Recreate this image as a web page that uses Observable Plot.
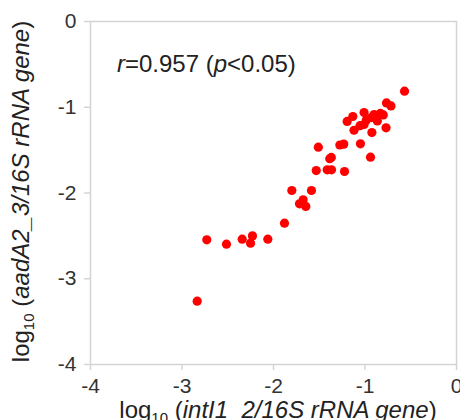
<!DOCTYPE html>
<html><head><meta charset="utf-8">
<script src="https://cdn.jsdelivr.net/npm/d3@7"></script>
<script src="https://cdn.jsdelivr.net/npm/@observablehq/plot@0.6"></script>
<style>body{margin:0;background:#fff} svg{display:block}</style>
</head><body><div id="chart"></div>
<script>
// log10(intI1_2/16S rRNA gene)
const intI1 = [-0.568,-0.765,-0.716,-1.010,-1.133,-1.195,-0.900,-0.832,-0.800,-0.865,-0.930,-0.985,-1.010,-1.055,-1.120,-0.925,-0.770,-1.050,-1.232,-1.275,-1.510,-1.368,-1.385,-0.940,-1.533,-1.413,-1.366,-1.224,-1.800,-1.585,-1.716,-1.676,-1.647,-1.880,-2.729,-2.514,-2.342,-2.230,-2.251,-2.062,-2.834];
// log10(aadA2_3/16S rRNA gene)
const aadA2 = [-0.812,-0.950,-0.985,-1.062,-1.108,-1.165,-1.085,-1.072,-1.090,-1.160,-1.120,-1.150,-1.200,-1.215,-1.268,-1.295,-1.240,-1.427,-1.430,-1.440,-1.466,-1.585,-1.600,-1.582,-1.738,-1.730,-1.730,-1.749,-1.971,-1.971,-2.126,-2.080,-2.157,-2.352,-2.546,-2.597,-2.538,-2.500,-2.585,-2.538,-3.261];
const tickValues = [-4,-3,-2,-1,0];
const tickLabels = ["-4","-3","-2","-1","0"];
const annotation = {r: "0.957", p: "0.05", x: -3.705, y: -0.6};

const data = intI1.map((x,i)=>({x, y: aadA2[i]}));
const fmt = d => tickLabels[tickValues.indexOf(d)];
const grey = "#d4d4d4";

const plot = Plot.plot({
  width:460, height:420,
  marginLeft:90, marginRight:4, marginTop:21, marginBottom:56,
  style:{fontFamily:"'Liberation Sans', Arial, sans-serif", fontSize:"21px", color:"#333", background:"#fff", overflow:"visible"},
  x:{domain:[-4,0]},
  y:{domain:[-4,0]},
  marks:[
    Plot.frame({stroke:grey, strokeWidth:1.5}),
    Plot.axisX({ticks:tickValues, tickFormat:fmt, tickSize:6, tickPadding:8, stroke:grey, strokeWidth:1.5, fill:"#333", label:null}),
    Plot.axisY({ticks:tickValues, tickFormat:fmt, tickSize:6, tickPadding:8, stroke:grey, strokeWidth:1.5, fill:"#333", label:null}),
    Plot.dot(data, {x:"x", y:"y", r:4.6, fill:"#ff0000", stroke:"none"})
  ]
});
document.getElementById("chart").appendChild(plot);

const svg = d3.select(plot);
const xs = plot.scale("x"), ys = plot.scale("y");
const ff = "'Liberation Sans', Arial, sans-serif";

// x title
const xt = svg.append("text").attr("x", (xs.apply(-4)+xs.apply(0))/2 + 5).attr("y", 418)
  .attr("text-anchor","middle").attr("font-family",ff).attr("font-size",24).attr("fill","#222");
xt.append("tspan").text("log");
xt.append("tspan").attr("font-size",15).attr("dy",5).text("10");
xt.append("tspan").attr("dy",-5).text(" (");
xt.append("tspan").attr("font-style","italic").text("intI1_2/16S rRNA gene");
xt.append("tspan").text(")");

// y title
const cy = (ys.apply(0)+ys.apply(-4))/2 - 1;
const yt = svg.append("text").attr("transform",`translate(29,${cy}) rotate(-90)`)
  .attr("text-anchor","middle").attr("font-family",ff).attr("font-size",24).attr("fill","#222");
yt.append("tspan").text("log");
yt.append("tspan").attr("font-size",15).attr("dy",5).text("10");
yt.append("tspan").attr("dy",-5).text(" (");
yt.append("tspan").attr("font-style","italic").text("aadA2_3/16S rRNA gene");
yt.append("tspan").text(")");

// annotation
const an = svg.append("text").attr("x", xs.apply(annotation.x)).attr("y", ys.apply(annotation.y))
  .attr("text-anchor","start").attr("font-family",ff).attr("font-size",24).attr("fill","#222");
an.append("tspan").attr("font-style","italic").text("r");
an.append("tspan").text("=" + annotation.r + " (");
an.append("tspan").attr("font-style","italic").text("p");
an.append("tspan").text("<" + annotation.p + ")");
</script>
</body></html>
